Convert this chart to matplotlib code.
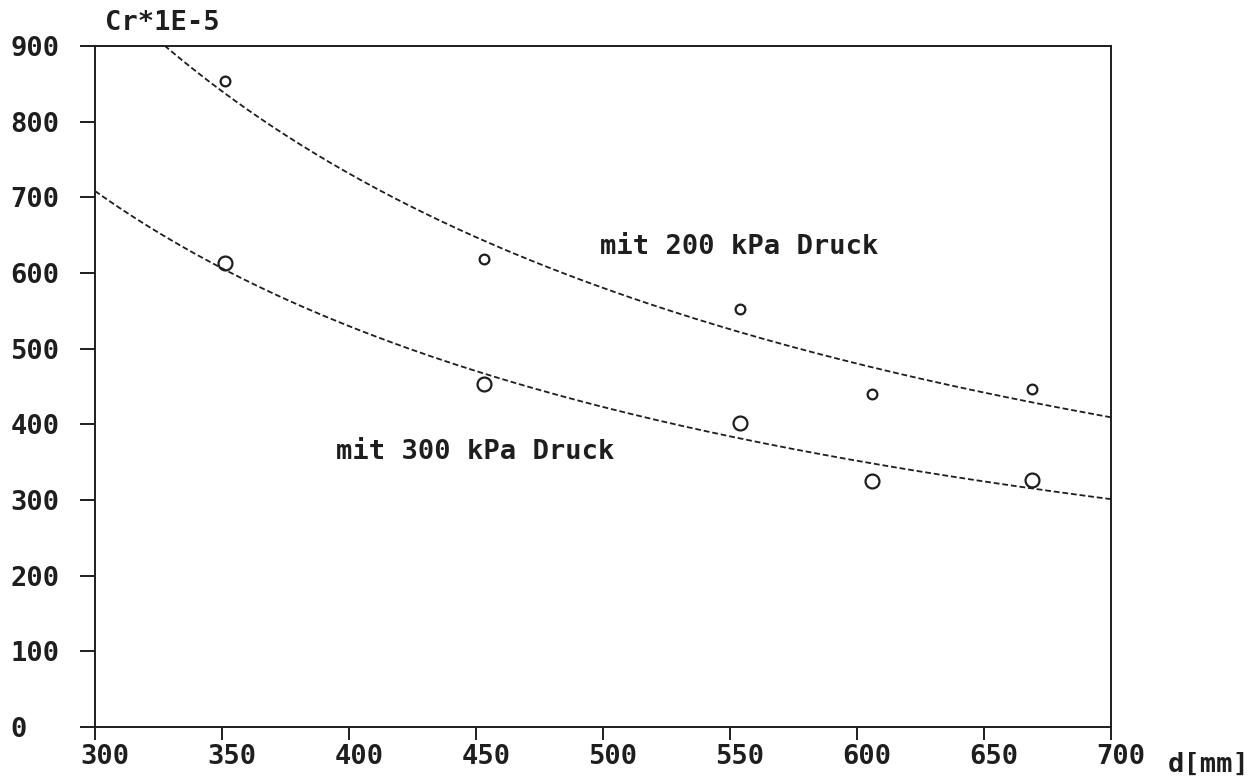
import numpy as np
import matplotlib.pyplot as plt
from matplotlib.transforms import ScaledTranslation

# measured values, diameter d in mm and Cr * 1E-5
d_200 = [351, 453, 554, 606, 669]
cr_200 = [854, 618, 552, 440, 447]
d_300 = [351, 453, 554, 606, 669]
cr_300 = [613, 453, 402, 325, 326]

x_ticks = [300, 350, 400, 450, 500, 550, 600, 650, 700]
y_ticks = [0, 100, 200, 300, 400, 500, 600, 700, 800, 900]

ink = '#1e1e1e'
font = dict(family='DejaVu Sans Mono', weight='bold', size=19.5, color=ink)

fig = plt.figure(figsize=(12.6, 7.83), dpi=100)
fig.patch.set_facecolor('white')
ax = fig.add_axes([95 / 1260, 56 / 783, 1016 / 1260, 681 / 783])


def power_fit(x, y):
    # least squares fit of y = a * x^b in log-log space
    b, ln_a = np.polyfit(np.log(x), np.log(y), 1)
    return lambda t: np.exp(ln_a) * t ** b


xs = np.linspace(300, 700, 400)
for d, cr, size in [(d_200, cr_200, 7), (d_300, cr_300, 10)]:
    fit = power_fit(d, cr)
    ax.plot(xs, fit(xs), color=ink, lw=1.3, dashes=(3.2, 1.6))
    ax.plot(d, cr, 'o', ms=size, mfc='none', mec=ink, mew=1.6, ls='none')

ax.set_xlim(300, 700)
ax.set_ylim(0, 900)
ax.set_xticks(x_ticks)
ax.set_yticks(y_ticks)

for s in ax.spines.values():
    s.set_linewidth(1.4)
    s.set_color(ink)

ax.tick_params(axis='y', direction='out', length=10.8, width=1.4, color=ink, pad=50)
ax.tick_params(axis='x', direction='out', length=9.5, width=1.4, color=ink, pad=3)

ax.set_xticklabels([str(v) for v in x_ticks], fontdict=font)
ax.set_yticklabels([str(v) for v in y_ticks], fontdict=font)
for lab in ax.get_yticklabels():
    lab.set_ha('left')
shift = ScaledTranslation(10 / 100, 0, fig.dpi_scale_trans)
for lab in ax.get_xticklabels():
    lab.set_transform(lab.get_transform() + shift)

ax.text(499, 634, 'mit 200 kPa Druck', va='center', ha='left', **font)
ax.text(395, 363, 'mit 300 kPa Druck', va='center', ha='left', **font)

fig.text(105 / 1260, 1 - 23 / 783, 'Cr*1E-5', va='center', ha='left', **font)
fig.text(1168 / 1260, 1 - 765 / 783, 'd[mm]', va='center', ha='left', **font)

fig.savefig('out.png', dpi=100)
